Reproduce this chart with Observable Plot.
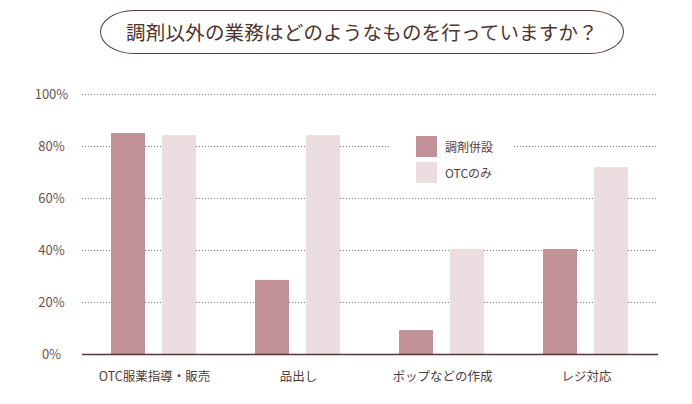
<!DOCTYPE html>
<html>
<head>
<meta charset="utf-8">
<script src="https://cdn.jsdelivr.net/npm/d3@7"></script>
<script src="https://cdn.jsdelivr.net/npm/@observablehq/plot@0.6"></script>
<style>
  html, body { margin: 0; padding: 0; background: #fff; }
  #wrap { position: relative; width: 692px; height: 404px; font-family: "Noto Sans CJK JP", "Noto Sans", sans-serif; overflow: hidden; }
  #title { position: absolute; left: 100px; top: 10px; width: 524px; height: 44px; box-sizing: border-box;
           border: 1.2px solid #5a3a36; border-radius: 34px / 22px; text-align: center; line-height: 42px;
           font-size: 19.5px; color: #4e3430; letter-spacing: 0.2px; }
  #chart { position: absolute; left: 0; top: 62px; }
  #legend { position: absolute; left: 389px; top: 131px; width: 123px; height: 58px; background: #fff; }
  .item { position: absolute; left: 27px; height: 21px; display: flex; align-items: center; }
  .sw { width: 21px; height: 21px; margin-right: 8px; }
  .lab { font-size: 12px; color: #5a4240; }
</style>
</head>
<body>
<div id="wrap">
  <div id="title">調剤以外の業務はどのようなものを行っていますか？</div>
  <div id="chart"></div>
  <div id="legend"></div>
</div>
<script>
const categories = ["OTC服薬指導・販売", "品出し", "ポップなどの作成", "レジ対応"];
const series = ["調剤併設", "OTCのみ"];
const valuesChozai = [85, 28.5, 9.2, 40.4];
const valuesOTC = [84.2, 84.2, 40.4, 71.9];
const yTicks = [0, 20, 40, 60, 80, 100];
const colors = ["#c09197", "#ebdde0"];

const rows = [];
categories.forEach((c, i) => {
  rows.push({cat: c, series: series[0], value: valuesChozai[i]});
  rows.push({cat: c, series: series[1], value: valuesOTC[i]});
});

const chart = Plot.plot({
  width: 692,
  height: 342,
  marginTop: 32,
  marginBottom: 50,
  marginLeft: 80,
  marginRight: 33,
  style: {fontFamily: '"Noto Sans CJK JP", "Noto Sans", sans-serif', background: "transparent"},
  fx: {domain: categories, padding: 0, label: null},
  x: {domain: series, paddingInner: 0.33, paddingOuter: 0.56, axis: null},
  y: {domain: [0, 100], label: null},
  color: {domain: series, range: colors},
  marks: [
    Plot.ruleY(yTicks.filter(d => d > 0), {stroke: "#7a7a7a", strokeDasharray: "1,2", strokeWidth: 1}),
    Plot.barY(rows, {fx: "cat", x: "series", y: "value", fill: "series"}),
    Plot.ruleY([0], {stroke: "#5a3530", strokeWidth: 1.6}),
    Plot.axisY({ticks: yTicks, tickFormat: d => d + "%", tickSize: 0, tickPadding: 31, textAnchor: "middle",
                fontSize: 13, fill: "#6a5452", label: null}),
    Plot.axisFx({anchor: "bottom", tickSize: 0, tickPadding: 18, fontSize: 12.5, fill: "#4e3c3a", label: null})
  ]
});
document.getElementById("chart").appendChild(chart);

const legend = document.getElementById("legend");
series.forEach((s, i) => {
  const item = document.createElement("div");
  item.className = "item";
  item.style.top = (5 + i * 26) + "px";
  const sw = document.createElement("div");
  sw.className = "sw";
  sw.style.background = colors[i];
  const lab = document.createElement("span");
  lab.className = "lab";
  lab.textContent = s;
  item.appendChild(sw);
  item.appendChild(lab);
  legend.appendChild(item);
});
</script>
</body>
</html>
